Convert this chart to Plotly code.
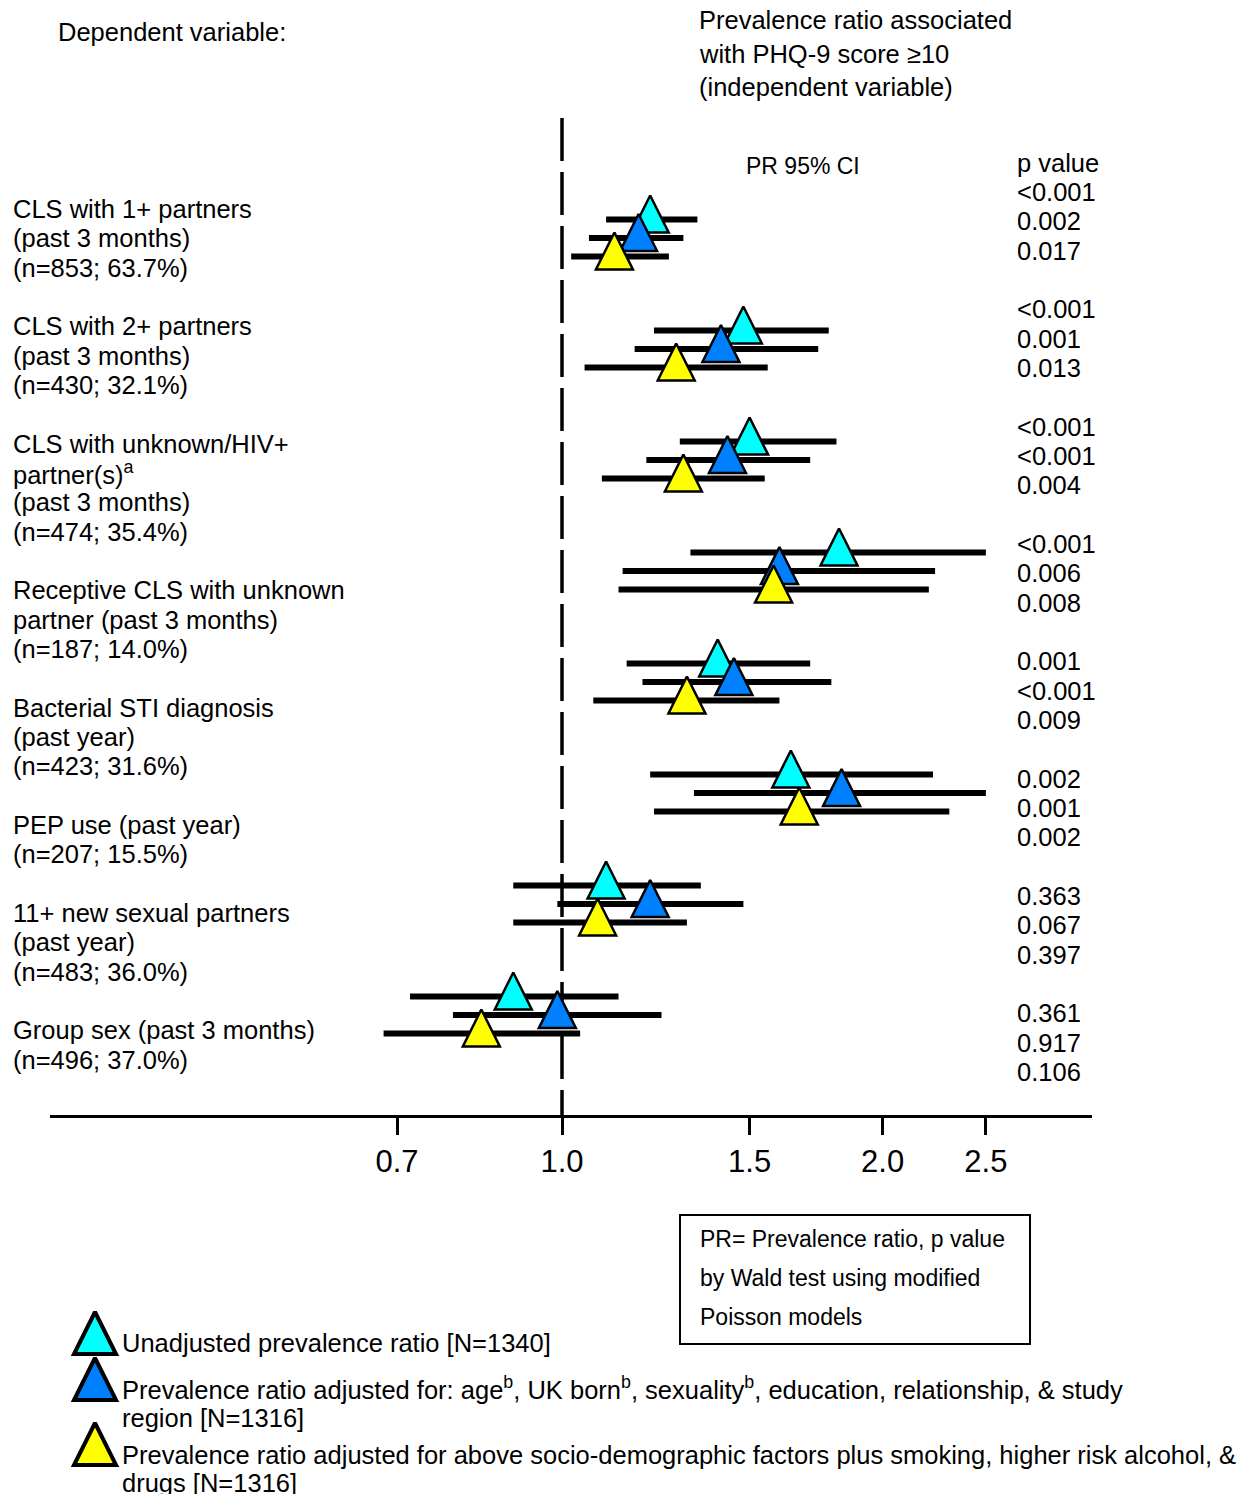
import plotly.graph_objects as go

# ---------------------------------------------------------------- data
outcomes = [
    ["CLS with 1+ partners", "(past 3 months)", "(n=853; 63.7%)"],
    ["CLS with 2+ partners", "(past 3 months)", "(n=430; 32.1%)"],
    ["CLS with unknown/HIV+", "partner(s)<sup>a</sup>", "(past 3 months)", "(n=474; 35.4%)"],
    ["Receptive CLS with unknown", "partner (past 3 months)", "(n=187; 14.0%)"],
    ["Bacterial STI diagnosis", "(past year)", "(n=423; 31.6%)"],
    ["PEP use (past year)", "(n=207; 15.5%)"],
    ["11+ new sexual partners", "(past year)", "(n=483; 36.0%)"],
    ["Group sex (past 3 months)", "(n=496; 37.0%)"],
]

# unadjusted prevalence ratios
pr_unadj = [1.21, 1.48, 1.50, 1.82, 1.40, 1.64, 1.10, 0.90]
lo_unadj = [1.10, 1.22, 1.29, 1.32, 1.15, 1.21, 0.90, 0.72]
hi_unadj = [1.34, 1.78, 1.81, 2.50, 1.71, 2.23, 1.35, 1.13]
p_unadj = ["<0.001", "<0.001", "<0.001", "<0.001", "0.001", "0.002", "0.363", "0.361"]

# adjusted for socio-demographic factors
pr_adj1 = [1.18, 1.41, 1.43, 1.60, 1.45, 1.83, 1.21, 0.99]
lo_adj1 = [1.06, 1.17, 1.20, 1.14, 1.19, 1.33, 0.99, 0.79]
hi_adj1 = [1.30, 1.74, 1.71, 2.24, 1.79, 2.50, 1.48, 1.24]
p_adj1 = ["0.002", "0.001", "<0.001", "0.006", "<0.001", "0.001", "0.067", "0.917"]

# further adjusted for smoking, alcohol and drugs
pr_adj2 = [1.12, 1.28, 1.30, 1.58, 1.31, 1.67, 1.08, 0.84]
lo_adj2 = [1.02, 1.05, 1.09, 1.13, 1.07, 1.22, 0.90, 0.68]
hi_adj2 = [1.26, 1.56, 1.55, 2.21, 1.60, 2.31, 1.31, 1.04]
p_adj2 = ["0.017", "0.013", "0.004", "0.008", "0.009", "0.002", "0.397", "0.106"]

tick_vals = [0.7, 1.0, 1.5, 2.0, 2.5]
tick_text = ["0.7", "1.0", "1.5", "2.0", "2.5"]

series_names = [
    "Unadjusted prevalence ratio [N=1340]",
    "Prevalence ratio adjusted for: age<sup>b</sup>, UK born<sup>b</sup>, sexuality<sup>b</sup>, "
    "education, relationship, & study<br>region [N=1316]",
    "Prevalence ratio adjusted for above socio-demographic factors plus smoking, higher risk alcohol, &"
    "<br>drugs [N=1316]",
]
series_colors = ["#00FFFF", "#0080FF", "#FFFF00"]

# ---------------------------------------------------------------- layout constants
W, H = 1257, 1494
FONT = "Liberation Sans, Arial, sans-serif"
TXT = 25.5
LOG_PX = 1065.2          # pixels per decade on the ratio axis
X_ONE = 562              # pixel column of ratio 1.0
AX_L, AX_R = 50, 1092    # horizontal extent of the axis
AX_Y = 1115              # pixel row of the axis line
ROW0 = 238               # pixel row of first outcome (middle series)
ROW_STEP = 111
SUB_STEP = 18.5          # gap between the three series inside a row
APEX_UP = 24             # triangle apex sits this far above its CI line
LINE_PITCH = 29.33       # pitch of the label and p-value columns
PAD = 2                  # annotation inner padding


def px(x):
    return x / W


def py(y):
    return 1 - y / H


y_top = -ROW0 / ROW_STEP
y_bot = (AX_Y - ROW0) / ROW_STEP
sub = SUB_STEP / ROW_STEP
apex = APEX_UP / ROW_STEP

fig = go.Figure()

series = [
    (pr_unadj, lo_unadj, hi_unadj),
    (pr_adj1, lo_adj1, hi_adj1),
    (pr_adj2, lo_adj2, hi_adj2),
]

# confidence interval bars
for k, (pr, lo, hi) in enumerate(series):
    xs, ys = [], []
    for i in range(len(pr)):
        yy = i + (k - 1) * sub
        xs += [lo[i], hi[i], None]
        ys += [yy, yy, None]
    fig.add_trace(go.Scatter(x=xs, y=ys, mode="lines",
                             line=dict(color="black", width=6),
                             hoverinfo="skip", showlegend=False))

# point estimates
for k, (pr, lo, hi) in enumerate(series):
    ys = [i + (k - 1) * sub - apex for i in range(len(pr))]
    fig.add_trace(go.Scatter(x=pr, y=ys, mode="markers",
                             marker=dict(symbol="arrow-up", size=37, color=series_colors[k],
                                         line=dict(color="black", width=2.5)),
                             showlegend=False, cliponaxis=False))

# legend keys drawn in a full-page pixel frame
leg_apex = [1312, 1358, 1423]
for k in range(3):
    fig.add_trace(go.Scatter(x=[95], y=[leg_apex[k]], mode="markers", xaxis="x2", yaxis="y2",
                             marker=dict(symbol="arrow-up", size=42, color=series_colors[k],
                                         line=dict(color="black", width=4)),
                             showlegend=False, cliponaxis=False, hoverinfo="skip"))

ann = []


def text(x, y, s, size=TXT, anchor="left"):
    ann.append(dict(x=px(x - PAD), y=py(y), xref="paper", yref="paper", text=s, showarrow=False,
                    xanchor=anchor, yanchor="middle", align="left",
                    font=dict(family=FONT, size=size, color="black")))


text(58, 32, "Dependent variable:")
for j, s in enumerate(["Prevalence ratio associated", "with PHQ-9 score \u226510",
                       "(independent variable)"]):
    text(699, 20 + j * 33.5, s)
text(746, 166, "PR 95% CI", size=23)

# outcome labels: one continuous column, blank line between outcomes
k = 0
for lines in outcomes:
    for s in lines:
        text(13, 209 + k * LINE_PITCH, s)
        k += 1
    k += 1

# p values column
text(1017, 192 - LINE_PITCH, "p value")
k = 0
for i in range(len(outcomes)):
    for p in (p_unadj[i], p_adj1[i], p_adj2[i]):
        text(1017, 192 + k * LINE_PITCH, p)
        k += 1
    k += 1

# note box
for j, s in enumerate(["PR= Prevalence ratio, p value", "by Wald test using modified",
                       "Poisson models"]):
    text(700, 1239 + j * 39, s, size=23)

# legend texts
leg_lines = [[(1343, series_names[0])],
             [(1388, series_names[1].split("<br>")[0]), (1418, series_names[1].split("<br>")[1])],
             [(1455, series_names[2].split("<br>")[0]), (1483, series_names[2].split("<br>")[1])]]
for group in leg_lines:
    for y, s in group:
        text(122, y, s)

shapes = [
    # reference line at ratio 1
    dict(type="line", xref="x", yref="paper", x0=1, x1=1, y0=py(118), y1=py(AX_Y),
         line=dict(color="black", width=3.5, dash="43px,11px"), layer="below"),
    # note box frame
    dict(type="rect", xref="paper", yref="paper", x0=px(680), x1=px(1030), y0=py(1215),
         y1=py(1344), line=dict(color="black", width=2)),
]

x_lo = (AX_L - X_ONE) / LOG_PX
x_hi = (AX_R - X_ONE) / LOG_PX

fig.update_layout(
    width=W, height=H,
    margin=dict(l=0, r=0, t=0, b=0),
    paper_bgcolor="white", plot_bgcolor="rgba(0,0,0,0)",
    showlegend=False,
    annotations=ann, shapes=shapes,
    xaxis=dict(type="log", domain=[px(AX_L), px(AX_R)], range=[x_lo, x_hi],
               tickvals=tick_vals, ticktext=tick_text, ticks="outside", ticklen=17,
               tickwidth=3, tickcolor="black", showline=True, linewidth=3, linecolor="black",
               showgrid=False, zeroline=False, anchor="y",
               tickfont=dict(family=FONT, size=31, color="black")),
    yaxis=dict(domain=[py(AX_Y), 1], range=[y_bot, y_top], visible=False, showgrid=False,
               zeroline=False),
    xaxis2=dict(domain=[0, 1], range=[0, W], visible=False, anchor="y2"),
    yaxis2=dict(domain=[0, 1], range=[H, 0], visible=False, anchor="x2"),
)

fig.write_html("out.html")
